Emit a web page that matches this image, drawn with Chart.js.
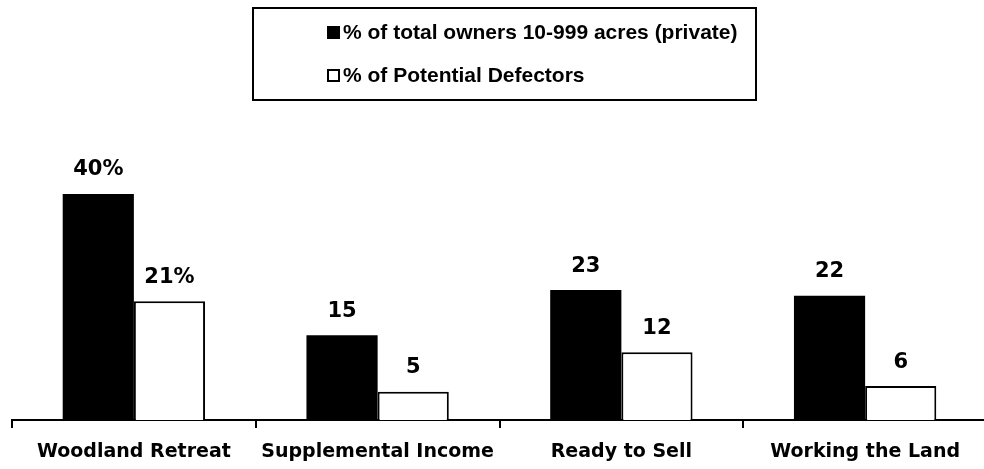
<!DOCTYPE html>
<html>
<head>
<meta charset="utf-8">
<script src="https://cdn.jsdelivr.net/npm/chart.js@4/dist/chart.umd.min.js"></script>
<style>
    body { margin: 0; overflow: hidden; background: #fff; }
    #wrap { position: relative; width: 990px; height: 469px; }
    #legend {
        position: absolute; left: 252px; top: 7px; width: 501px; height: 90px;
        border: 2px solid #000; box-sizing: content-box;
        font: bold 21px "Liberation Sans", Arial, sans-serif; color: #000;
    }
    .item { position: absolute; left: 73px; height: 24px; line-height: 24px; white-space: nowrap; }
    .box { display: inline-block; width: 13px; height: 13px; box-sizing: border-box;
           border: 2px solid #000; margin-right: 3px; vertical-align: 0px; }
</style>
</head>
<body>
<div id="wrap">
    <canvas id="chart" width="990" height="469"></canvas>
    <div id="legend"></div>
</div>
<script>
const categories = ['Woodland Retreat', 'Supplemental Income', 'Ready to Sell', 'Working the Land'];
const totalOwners = [40, 15, 23, 22];
const potentialDefectors = [21, 5, 12, 6];
// first group is labelled with a percent sign, the rest are bare numbers
const labelSuffix = ['%', '', '', ''];

// value labels above each bar
const valueLabels = {
    id: 'valueLabels',
    afterDatasetsDraw(chart) {
        const ctx = chart.ctx;
        ctx.save();
        ctx.font = 'bold 21px "DejaVu Sans", Verdana, sans-serif';
        ctx.fillStyle = '#000';
        ctx.textAlign = 'center';
        ctx.textBaseline = 'middle';
        chart.data.datasets.forEach((ds, i) => {
            chart.getDatasetMeta(i).data.forEach((bar, j) => {
                ctx.fillText(ds.data[j] + labelSuffix[j], bar.x, bar.y - 24);
            });
        });
        ctx.restore();
    }
};

const chart = new Chart(document.getElementById('chart'), {
    type: 'bar',
    data: {
        labels: categories,
        datasets: [
            {
                label: '% of total owners 10-999 acres (private)',
                data: totalOwners,
                backgroundColor: '#000',
                borderColor: '#000',
                borderWidth: 0
            },
            {
                label: '% of Potential Defectors',
                data: potentialDefectors,
                backgroundColor: '#fff',
                borderColor: '#000',
                borderWidth: 2
            }
        ]
    },
    options: {
        responsive: false,
        animation: false,
        events: [],
        layout: { padding: { top: 137.5, left: 12, right: 3, bottom: 0 } },
        plugins: { legend: { display: false }, tooltip: { enabled: false } },
        datasets: { bar: { barPercentage: 1, categoryPercentage: 0.584 } },
        scales: {
            y: { display: false, min: 0, max: 50 },
            x: {
                border: { display: true, color: '#000', width: 2 },
                grid: {
                    offset: true,
                    drawOnChartArea: false,
                    drawTicks: true,
                    tickLength: 8,
                    color: '#000',
                    lineWidth: 2
                },
                ticks: {
                    color: '#000',
                    padding: 13,
                    maxRotation: 0,
                    autoSkip: false,
                    font: { family: '"DejaVu Sans", Verdana, sans-serif', size: 19, weight: 'bold' }
                },
                afterFit: (scale) => { scale.height = 49; }
            }
        }
    },
    plugins: [valueLabels]
});

// html legend built from the datasets
const legend = document.getElementById('legend');
chart.data.datasets.forEach((ds, i) => {
    const item = document.createElement('div');
    item.className = 'item';
    item.style.top = (i === 0 ? 11 : 54) + 'px';
    item.innerHTML = '<span class="box" style="background:' + ds.backgroundColor + '"></span>' + ds.label;
    legend.appendChild(item);
});
</script>
</body>
</html>
